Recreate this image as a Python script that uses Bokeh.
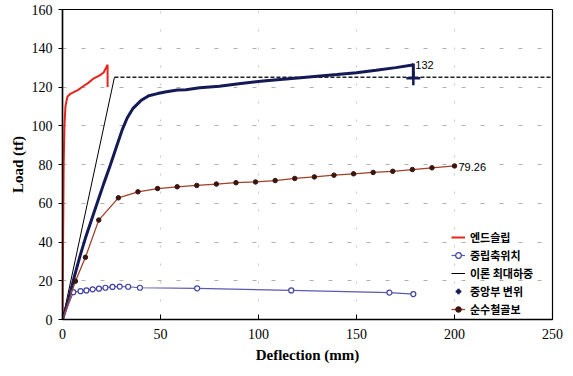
from bokeh.plotting import figure
from bokeh.models import Range1d, FixedTicker, Legend, LegendItem, Label
from bokeh.embed import file_html
from bokeh.resources import INLINE

# ---- data ----
endslip_x = [0, 0.3, 0.6, 1.0, 1.5, 2.5, 4, 6, 8, 10, 13, 16, 19, 21, 22.5, 23, 23]
endslip_y = [0, 40, 80, 100, 110, 115, 116.5, 117.5, 118.5, 120, 122, 124.5, 126, 127.5, 130.5, 131.5, 120]

neutral_x = [0, 5.5, 9.2, 12.2, 15.4, 18.6, 21.9, 25.5, 29.2, 33.5, 39.5, 68.7, 116.7, 166.8, 179]
neutral_y = [0, 14.1, 14.6, 15.0, 15.6, 15.9, 16.4, 16.8, 17.0, 16.9, 16.4, 16.1, 15.0, 13.9, 13.1]

theory_x = [0, 26.5, 250]
theory_y = [0, 125, 125]

center_x = [0, 3, 6, 9, 12, 15, 18, 21, 24.5, 27.5, 30.5, 33, 36, 40, 44, 48.5, 53, 58.7, 63, 70, 80,
            91, 101, 111, 120, 130, 140, 150, 160, 170, 178.6, 179, 179]
center_y = [0, 10, 22, 33, 43, 52, 61, 70, 80, 89, 98, 104, 109, 113, 115.5, 116.6, 117.5, 118.5, 118.6,
            119.6, 120.4, 121.8, 123, 123.9, 124.6, 125.5, 126.4, 127.4, 128.6, 130, 131.3, 132, 124.5]

steel_x = [0, 6.6, 11.7, 18.5, 28.5, 38.5, 48.5, 58.5, 68.5, 78.5, 88.5, 98.5, 108.5, 118.5, 128.5,
           138.5, 148.5, 158.5, 168.5, 178.5, 188.5, 200]
steel_y = [0, 19.8, 32.1, 51.3, 62.8, 65.9, 67.6, 68.5, 69.2, 69.9, 70.6, 71.0, 71.7, 72.8, 73.6,
           74.5, 75.2, 75.9, 76.5, 77.4, 78.3, 79.26]

x_ticks = [0, 50, 100, 150, 200, 250]
y_ticks = [0, 20, 40, 60, 80, 100, 120, 140, 160]

labels = ["엔드슬립", "중립축위치", "이론 최대하중", "중앙부 변위", "순수철골보"]
peak_label = "132"
steel_label = "79.26"

# ---- figure ----
p = figure(width=573, height=376, output_backend="svg", toolbar_location=None,
           x_range=Range1d(0, 250), y_range=Range1d(0, 160))
p.min_border_left = 62
p.min_border_right = 21
p.min_border_top = 9
p.min_border_bottom = 57
p.background_fill_color = "white"
p.border_fill_color = "white"
p.outline_line_color = "black"
p.outline_line_width = 1.2

p.xaxis.ticker = FixedTicker(ticks=x_ticks)
p.yaxis.ticker = FixedTicker(ticks=y_ticks)
for ax in (p.xaxis[0], p.yaxis[0]):
    ax.major_label_text_font = "Liberation Serif"
    ax.major_label_text_font_size = "14px"
    ax.major_label_text_color = "black"
    ax.axis_line_width = 1.5
    ax.axis_line_color = "black"
    ax.minor_tick_line_color = None
    ax.axis_label_text_font = "Liberation Serif"
    ax.axis_label_text_font_style = "bold"
    ax.axis_label_text_font_size = "15px"
    ax.axis_label_text_color = "black"
p.xaxis.major_tick_in = 5
p.xaxis.major_tick_out = 0
p.yaxis.major_tick_in = 0
p.yaxis.major_tick_out = 4
p.xaxis.axis_label = "Deflection (mm)"
p.yaxis.axis_label = "Load (tf)"
p.xaxis.major_label_standoff = 9
p.xaxis.axis_label_standoff = 5
p.yaxis.major_label_standoff = 6
p.yaxis.axis_label_standoff = 3

p.xgrid.grid_line_color = "#c8c8c8"
p.xgrid.grid_line_dash = "2 16"
p.ygrid.grid_line_color = "#b0b0b0"
p.ygrid.grid_line_dash = "4 15"

# ---- series ----
r_end = p.line(endslip_x, endslip_y, line_color="#e8241a", line_width=2)

r_theory = p.line(theory_x[:2], theory_y[:2], line_color="black", line_width=1)
r_theory_h = p.line(theory_x[1:], theory_y[1:], line_color="#222222", line_width=1.5, line_dash="4 2")

r_center = p.line(center_x, center_y, line_color="#141a55", line_width=3)
r_center_m = p.scatter(center_x[-1:], center_y[-1:], marker="cross", size=14,
                       line_color="#141a55", line_width=2.5)

r_neu = p.line(neutral_x, neutral_y, line_color="#5a5ab0", line_width=1.2)
r_neu_m = p.scatter(neutral_x[1:], neutral_y[1:], marker="circle", size=5,
                    line_color="#4040a0", fill_color="white", line_width=1.2)

r_steel = p.line(steel_x, steel_y, line_color="#a0402a", line_width=1.3)
r_steel_m = p.scatter(steel_x[1:], steel_y[1:], marker="circle", size=4.5,
                      line_color="#3a1510", fill_color="#3a1510")

# ---- annotations ----
p.add_layout(Label(x=center_x[-2], y=max(center_y), text=peak_label, x_offset=2, y_offset=-5,
                   text_font="Liberation Sans", text_font_size="11px", text_color="black"))
p.add_layout(Label(x=steel_x[-1], y=steel_y[-1], text=steel_label, x_offset=4, y_offset=-5,
                   text_font="Liberation Sans", text_font_size="11px", text_color="black"))

# ---- legend ----
leg_items = [
    LegendItem(label=labels[0], renderers=[r_end]),
    LegendItem(label=labels[1], renderers=[r_neu, r_neu_m]),
    LegendItem(label=labels[2], renderers=[r_theory]),
    LegendItem(label=labels[3], renderers=[r_center_m]),
    LegendItem(label=labels[4], renderers=[r_steel, r_steel_m]),
]
legend = Legend(items=leg_items, location=(389, 1))
legend.label_text_font = "Noto Sans CJK KR"
legend.label_text_font_style = "bold"
legend.label_text_font_size = "11px"
legend.label_text_color = "black"
legend.border_line_color = None
legend.background_fill_alpha = 0
legend.padding = 2
legend.spacing = 0
legend.margin = 0
legend.glyph_width = 14
legend.glyph_height = 18
legend.label_height = 18
legend.label_standoff = 5
p.add_layout(legend, "center")

open("out.html", "w").write(file_html(p, INLINE))
